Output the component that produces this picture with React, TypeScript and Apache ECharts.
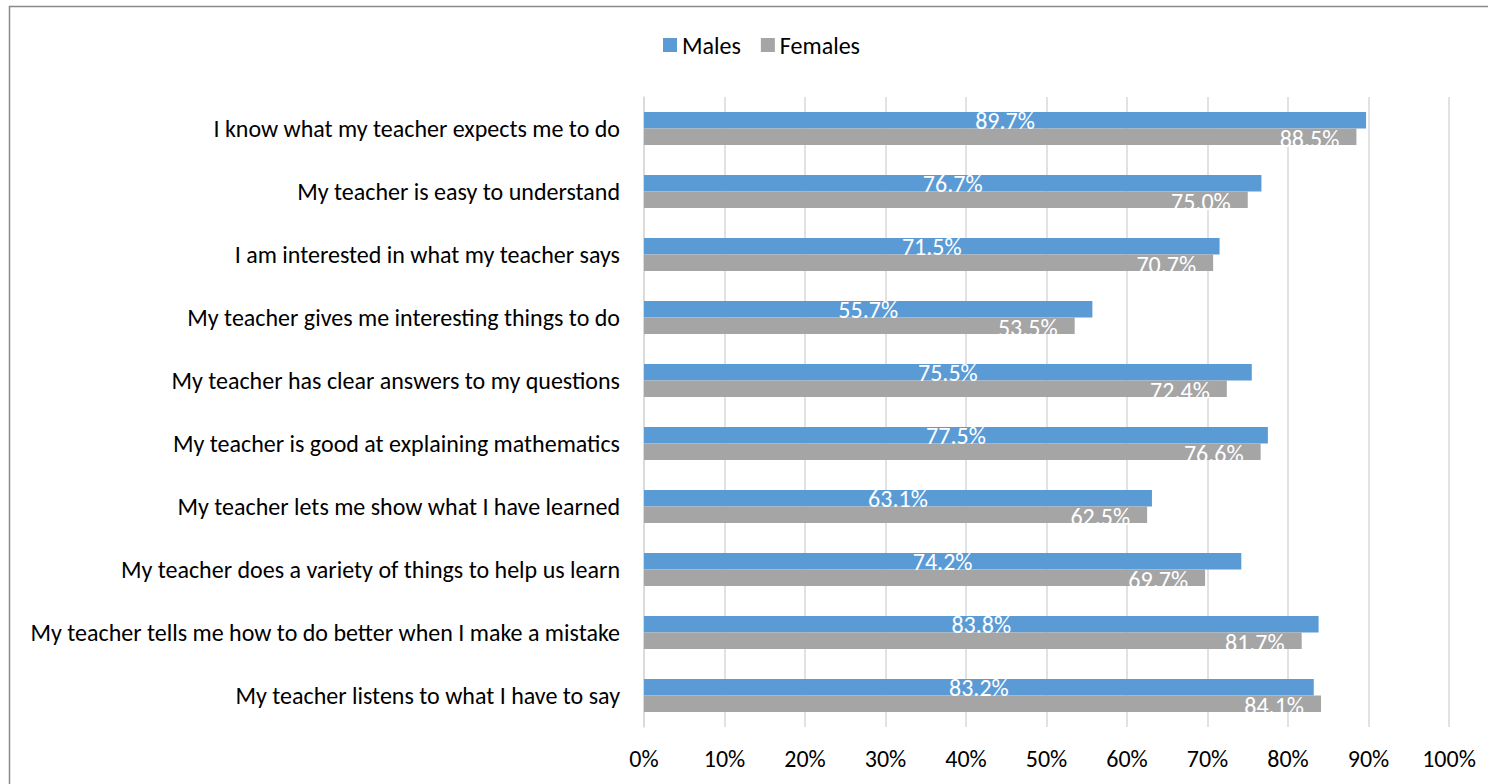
import React, { useEffect, useRef } from "react";
import * as echarts from "echarts";

const categories = [
  "I know what my teacher expects me to do",
  "My teacher is easy to understand",
  "I am interested in what my teacher says",
  "My teacher gives me interesting things to do",
  "My teacher has clear answers to my questions",
  "My teacher is good at explaining mathematics",
  "My teacher lets me show what I have learned",
  "My teacher does a variety of things to help us learn",
  "My teacher tells me how to do better when I make a mistake",
  "My teacher listens to what I have to say",
];
const males = [89.7, 76.7, 71.5, 55.7, 75.5, 77.5, 63.1, 74.2, 83.8, 83.2];
const females = [88.5, 75.0, 70.7, 53.5, 72.4, 76.6, 62.5, 69.7, 81.7, 84.1];
const seriesNames = ["Males", "Females"];

const FONT = "Calibri, Carlito, 'Open Sans', sans-serif";
const FS = 24;

export default function App() {
  const ref = useRef<HTMLDivElement>(null);
  useEffect(() => {
    document.body.style.margin = "0";
    if (!ref.current) return;
    const chart = echarts.init(ref.current, null, { renderer: "svg" });
    const fmt = (p: any) => Number(p.value).toFixed(1) + "%";
    chart.setOption({
      animation: false,
      textStyle: { fontFamily: FONT },
      legend: {
        left: 658,
        top: 28,
        itemWidth: 14,
        itemHeight: 14,
        itemGap: 20,
        icon: "rect",
        textStyle: { fontSize: FS, color: "#000", fontFamily: FONT },
        data: seriesNames,
      },
      grid: { left: 644, right: 39, top: 97, bottom: 57, containLabel: false },
      xAxis: {
        type: "value",
        min: 0,
        max: 100,
        interval: 10,
        axisLine: { show: false },
        axisTick: { show: false },
        splitLine: { lineStyle: { color: "#D9D9D9", width: 1.5 } },
        axisLabel: {
          formatter: "{value}%",
          fontSize: FS,
          color: "#000",
          margin: 19,
          fontFamily: FONT,
        },
      },
      yAxis: {
        type: "category",
        inverse: true,
        data: categories,
        axisLine: { show: true, lineStyle: { color: "#D9D9D9", width: 1.5 } },
        axisTick: { show: false },
        axisLabel: { fontSize: FS, color: "#000", margin: 24, fontFamily: FONT },
      },
      series: [
        {
          name: seriesNames[0],
          type: "bar",
          data: males,
          barGap: "0%",
          barCategoryGap: "47.5%",
          itemStyle: { color: "#5B9BD5" },
          label: {
            show: true,
            position: "inside",
            formatter: fmt,
            color: "#fff",
            fontSize: FS,
            fontFamily: FONT,
          },
        },
        {
          name: seriesNames[1],
          type: "bar",
          data: females,
          barGap: "0%",
          barCategoryGap: "47.5%",
          itemStyle: { color: "#A5A5A5" },
          label: {
            show: true,
            position: "insideRight",
            distance: 17,
            offset: [0, 2],
            formatter: fmt,
            color: "#fff",
            fontSize: FS,
            fontFamily: FONT,
          },
        },
      ],
      graphic: [
        {
          type: "line",
          shape: { x1: 9, y1: 6.5, x2: 1488, y2: 6.5 },
          style: { stroke: "#8a8a8a", lineWidth: 1.5 },
        },
        {
          type: "line",
          shape: { x1: 9.5, y1: 6, x2: 9.5, y2: 784 },
          style: { stroke: "#8a8a8a", lineWidth: 1.5 },
        },
      ],
    });
    return () => chart.dispose();
  }, []);
  return <div ref={ref} style={{ width: 1488, height: 784 }} />;
}
